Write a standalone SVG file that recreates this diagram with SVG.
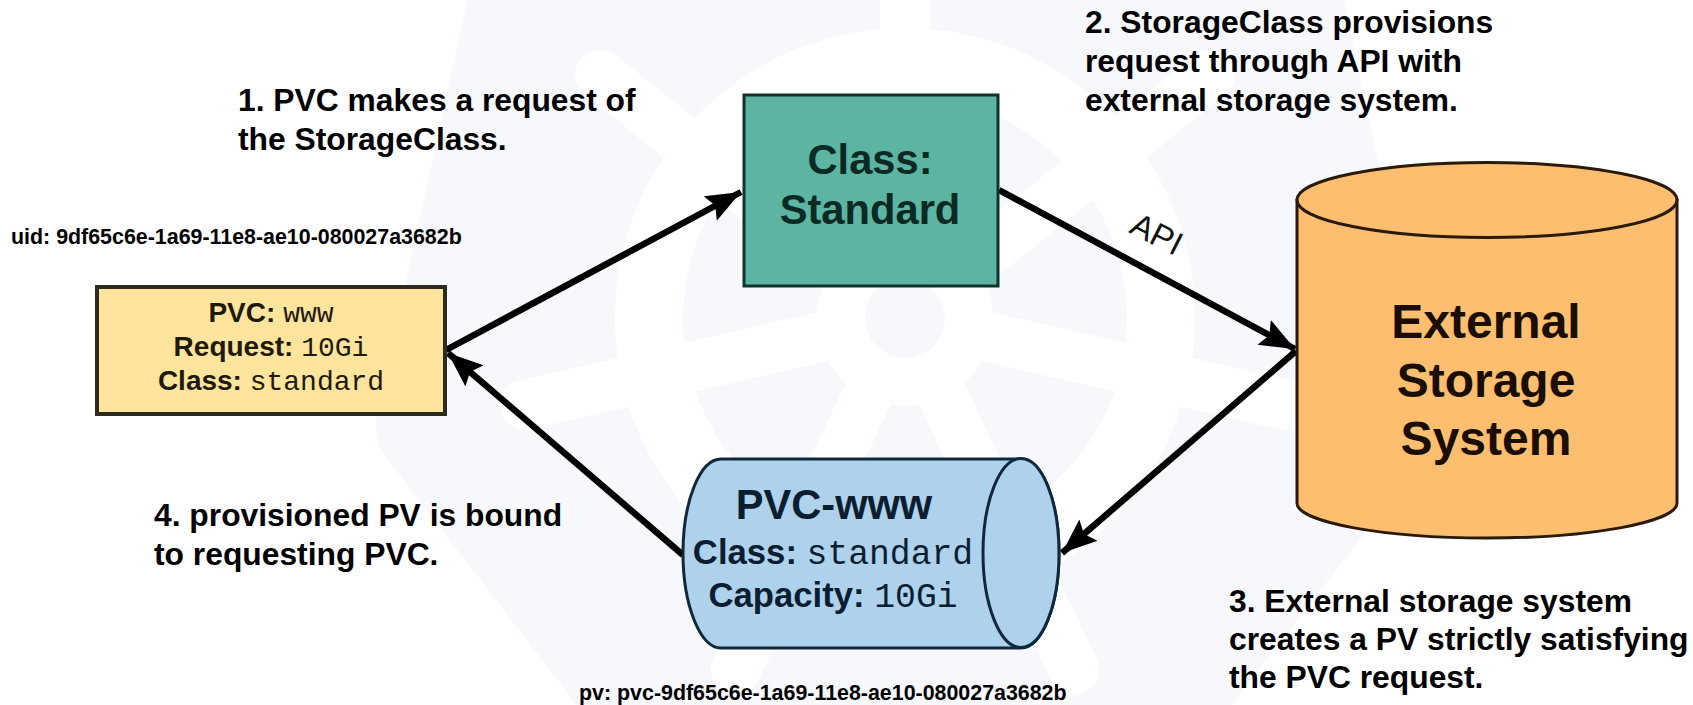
<svg xmlns="http://www.w3.org/2000/svg" width="1693" height="705" viewBox="0 0 1693 705">
<style>
.t{font-family:"Liberation Sans",Arial,sans-serif;font-weight:bold;fill:#000}
.c{font-family:"Liberation Sans",Arial,sans-serif;font-weight:bold;text-anchor:middle}
.m{font-family:"Liberation Mono","Courier New",monospace;font-weight:normal}
.n{font-size:31.8px}
.u{font-size:21.4px}
.a{stroke:#000;stroke-width:6.5;fill:none}
.wm{fill:#f6f8fc}
.sp{stroke:#fff;stroke-width:50;stroke-linecap:round}
</style>
<defs>
<marker id="ah" markerUnits="userSpaceOnUse" markerWidth="38" markerHeight="30" refX="35" refY="14" orient="auto"><path d="M0 0L35 14L0 28L6 14Z" fill="#000"/></marker>
<line id="spoke" class="sp" x1="905" y1="230" x2="905" y2="-72"/>
</defs>
<rect width="1693" height="705" fill="#fff"/>
<g id="watermark">
<path class="wm" d="M476 -40L377 415Q372 440 388 460L590 722H1218L1418 465Q1436 440 1430 415L1336 -40Z"/>
<circle cx="905" cy="318" r="256" fill="none" stroke="#fff" stroke-width="68"/>
<circle cx="905" cy="318" r="88" fill="#fff"/>
<use href="#spoke"/>
<use href="#spoke" transform="rotate(51.43 905 318)"/>
<use href="#spoke" transform="rotate(102.86 905 318)"/>
<use href="#spoke" transform="rotate(154.29 905 318)"/>
<use href="#spoke" transform="rotate(205.71 905 318)"/>
<use href="#spoke" transform="rotate(257.14 905 318)"/>
<use href="#spoke" transform="rotate(308.57 905 318)"/>
<circle class="wm" cx="905" cy="318" r="40"/>
</g>
<g id="connectors">
<line class="a" x1="446" y1="350" x2="741" y2="192" marker-end="url(#ah)"/>
<line class="a" x1="999" y1="190" x2="1295" y2="349" marker-end="url(#ah)"/>
<line class="a" x1="1296" y1="351" x2="1062" y2="553" marker-end="url(#ah)"/>
<line class="a" x1="683" y1="555" x2="448" y2="353" marker-end="url(#ah)"/>
<text transform="translate(1128 232) rotate(27)" font-family="'Liberation Sans',Arial,sans-serif" font-size="33" fill="#111">API</text>
</g>
<g id="pvc">
<rect x="97" y="287" width="348" height="127" fill="#fee49d" stroke="#2d2a20" stroke-width="4"/>
<text class="c" x="271" y="322" font-size="28" fill="#1e1a0c">PVC: <tspan class="m">www</tspan></text>
<text class="c" x="271" y="356" font-size="28" fill="#1e1a0c">Request: <tspan class="m">10Gi</tspan></text>
<text class="c" x="271" y="390" font-size="28" fill="#1e1a0c">Class: <tspan class="m">standard</tspan></text>
</g>
<g id="class-standard">
<rect x="744" y="95" width="254" height="191" fill="#5bb5a2" stroke="#12332c" stroke-width="3"/>
<text class="c" x="870" y="174" font-size="41.7" fill="#0b2a24">Class:</text>
<text class="c" x="870" y="224" font-size="41.7" fill="#0b2a24">Standard</text>
</g>
<g id="external-storage">
<path d="M1297 200V503C1297 522 1382 538 1487 538S1677 522 1677 503V200Z" fill="#fdbf6f" stroke="#2a1a08" stroke-width="3"/>
<ellipse cx="1487" cy="200" rx="190" ry="37.5" fill="#fdbf6f" stroke="#2a1a08" stroke-width="3"/>
<text class="c" x="1486" y="338" font-size="48" fill="#1a0d02">External</text>
<text class="c" x="1486" y="397" font-size="48" fill="#1a0d02">Storage</text>
<text class="c" x="1486" y="455" font-size="48" fill="#1a0d02">System</text>
</g>
<g id="pvc-www">
<path d="M721 459C700 459 683 501 683 553S700 648 721 648H1021C1042 648 1059 605 1059 553S1042 459 1021 459Z" fill="#aed1ec" stroke="#10283c" stroke-width="3"/>
<ellipse cx="1021" cy="553" rx="38" ry="94.5" fill="#aed1ec" stroke="#10283c" stroke-width="3"/>
<text class="c" x="834" y="519" font-size="41.6" fill="#0a1e30">PVC-www</text>
<text class="c" x="833" y="564" font-size="34.7" fill="#0a1e30">Class: <tspan class="m">standard</tspan></text>
<text class="c" x="833" y="607" font-size="34.7" fill="#0a1e30">Capacity: <tspan class="m">10Gi</tspan></text>
</g>
<g id="labels">
<text class="t n" x="238" y="111">1. PVC makes a request of</text>
<text class="t n" x="238" y="150">the StorageClass.</text>
<text class="t n" x="1085" y="33">2. StorageClass provisions</text>
<text class="t n" x="1085" y="72">request through API with</text>
<text class="t n" x="1085" y="111">external storage system.</text>
<text class="t n" x="1229" y="612">3. External storage system</text>
<text class="t n" x="1229" y="650">creates a PV strictly satisfying</text>
<text class="t n" x="1229" y="688">the PVC request.</text>
<text class="t n" x="154" y="526">4. provisioned PV is bound</text>
<text class="t n" x="154" y="565">to requesting PVC.</text>
<text class="t u" x="11" y="244">uid: 9df65c6e-1a69-11e8-ae10-080027a3682b</text>
<text class="t u" x="579" y="700">pv: pvc-9df65c6e-1a69-11e8-ae10-080027a3682b</text>
</g>
</svg>
